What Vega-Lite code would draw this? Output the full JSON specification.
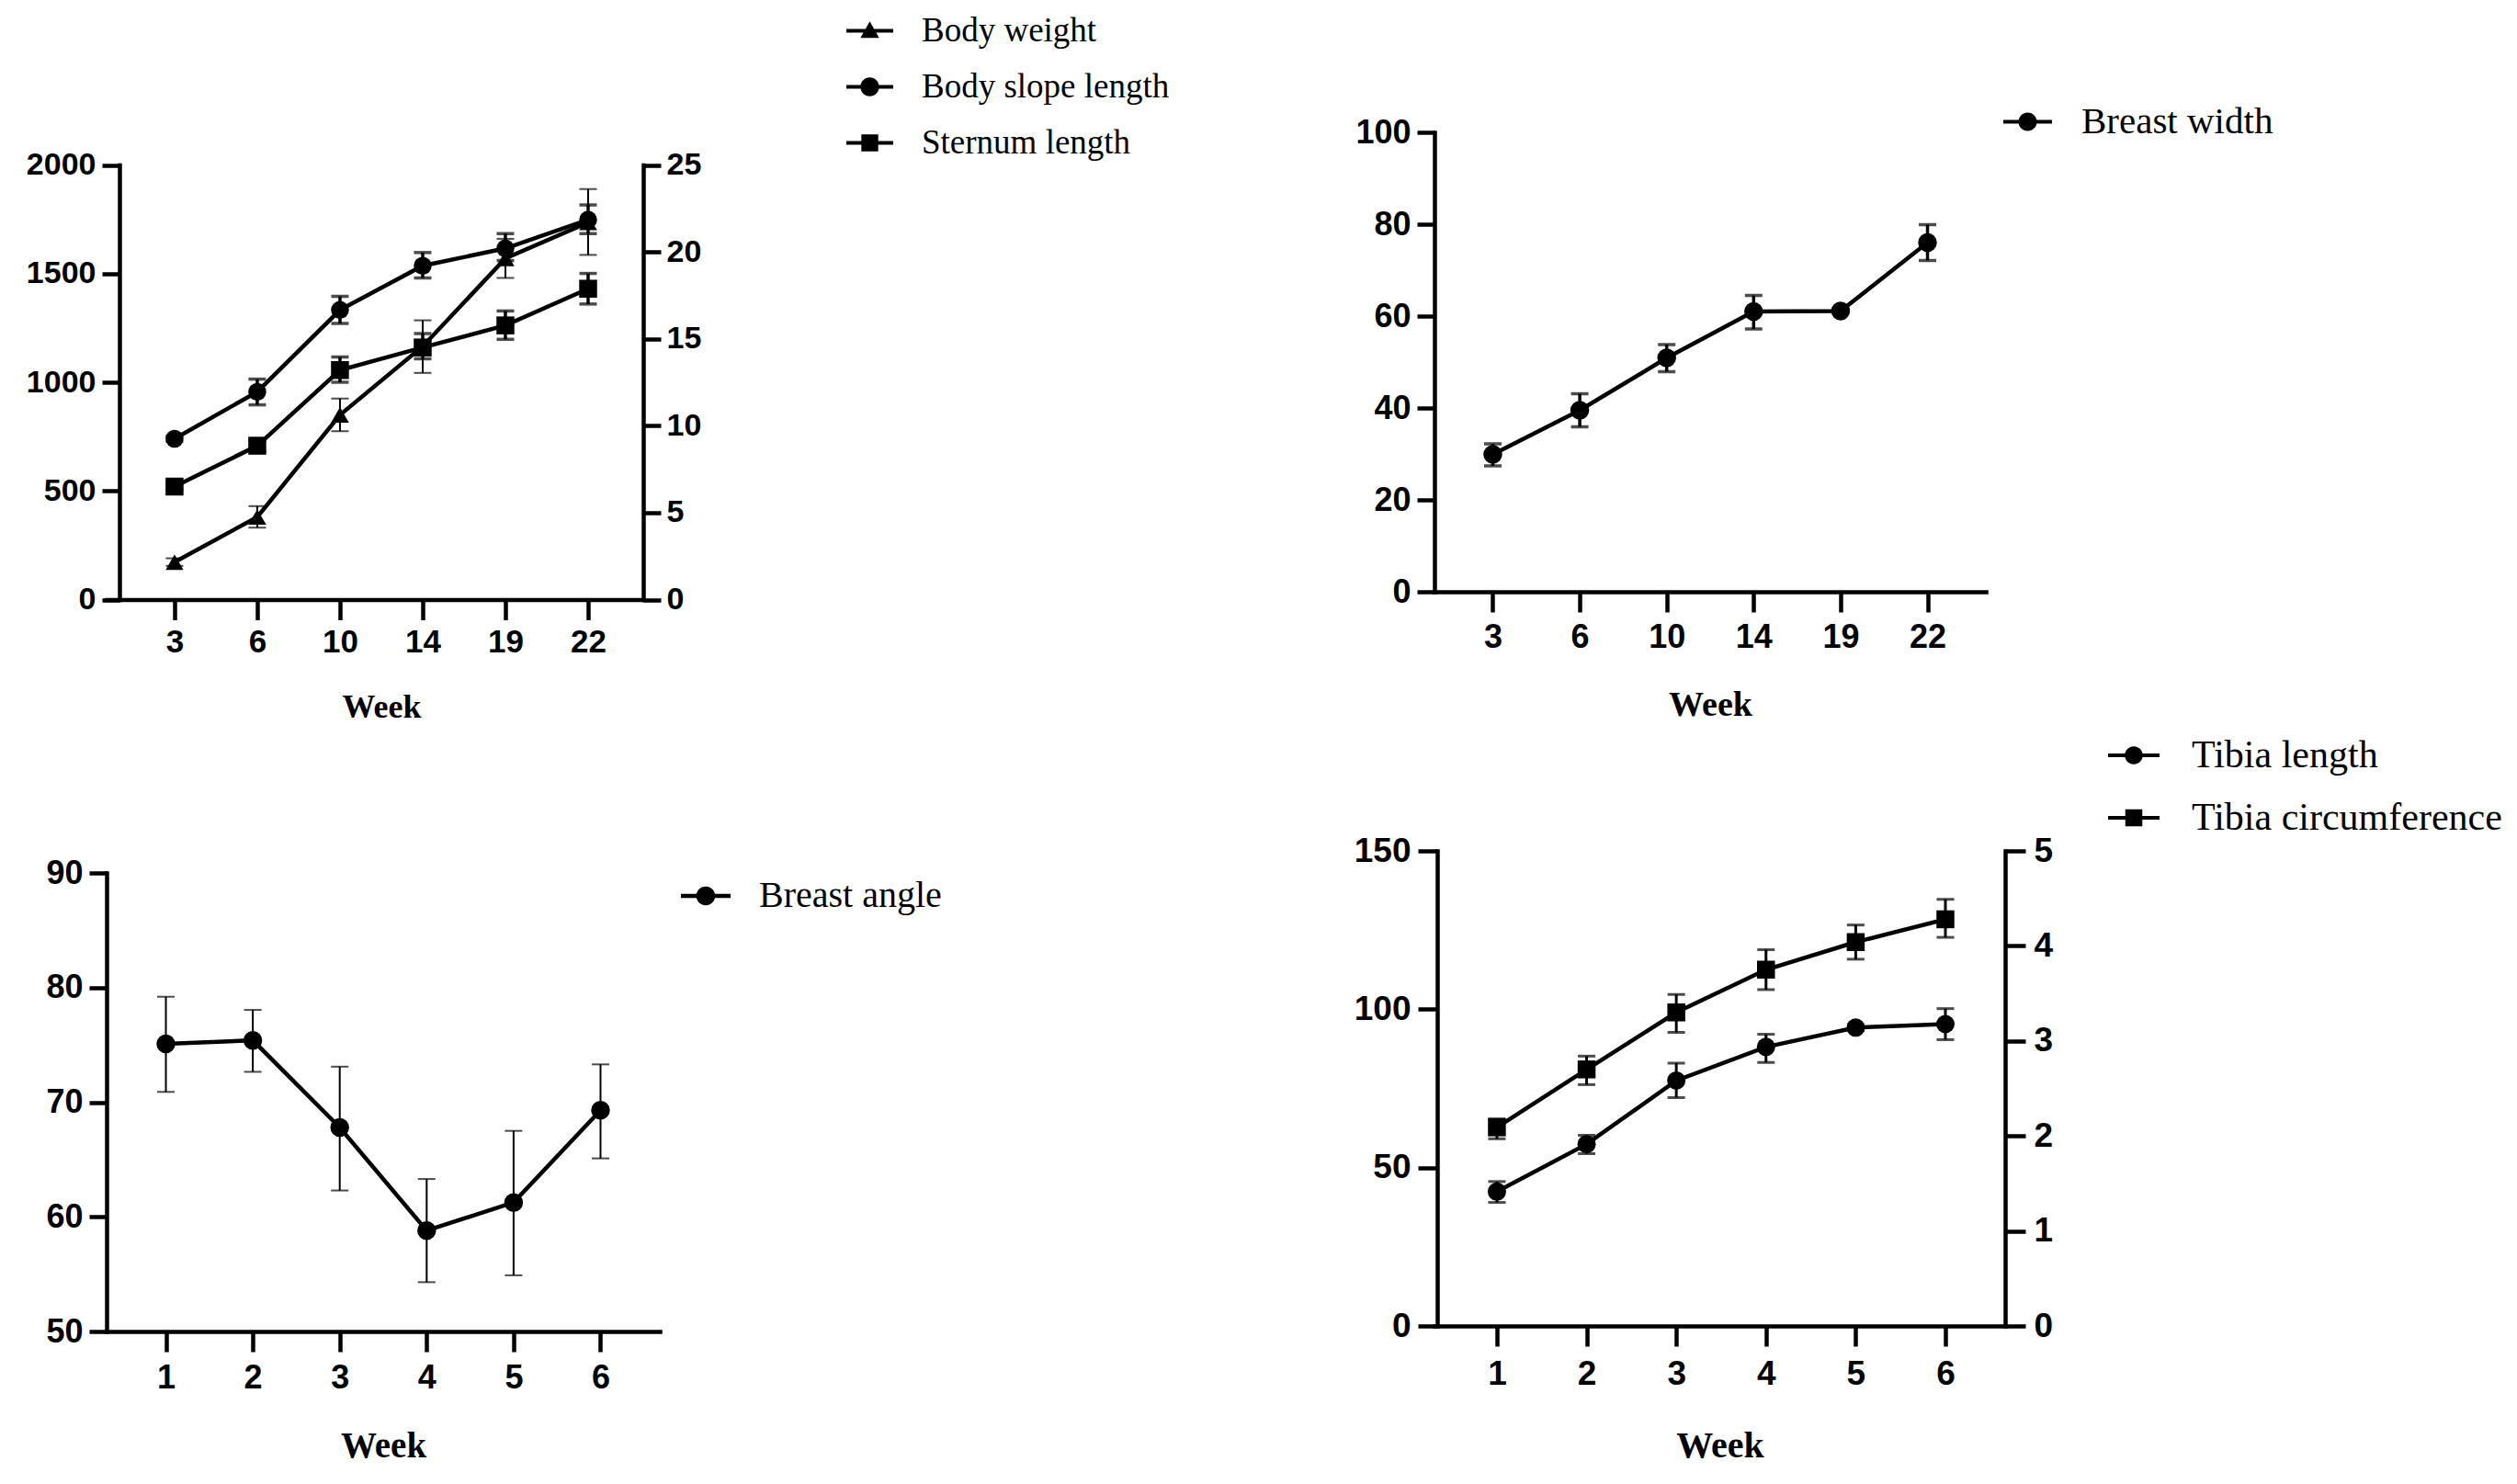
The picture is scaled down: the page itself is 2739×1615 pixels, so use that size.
{
  "$schema": "https://vega.github.io/schema/vega-lite/v6.json",
  "background": "white",
  "padding": {"left": 28, "top": 8, "right": 5, "bottom": 5},
  "bounds": "flush",
  "columns": 2,
  "spacing": {"row": 273, "column": 843},
  "resolve": {"scale": {"shape": "independent"}, "legend": {"shape": "independent"}},
  "concat": [
    {
      "width": 584,
      "height": 508.5,
      "data": {"values": [
        {"week": 3, "series": "Body weight", "mean": 172, "lo": 155, "hi": 190},
        {"week": 6, "series": "Body weight", "mean": 380, "lo": 331, "hi": 430},
        {"week": 10, "series": "Body weight", "mean": 850, "lo": 775, "hi": 925},
        {"week": 14, "series": "Body weight", "mean": 1165, "lo": 1043, "hi": 1285},
        {"week": 19, "series": "Body weight", "mean": 1570, "lo": 1480, "hi": 1660},
        {"week": 22, "series": "Body weight", "mean": 1735, "lo": 1586, "hi": 1889},
        {"week": 3, "series": "Body slope length", "mean": 9.25, "lo": 9.1, "hi": 9.4},
        {"week": 6, "series": "Body slope length", "mean": 11.95, "lo": 11.2, "hi": 12.68},
        {"week": 10, "series": "Body slope length", "mean": 16.66, "lo": 15.88, "hi": 17.44},
        {"week": 14, "series": "Body slope length", "mean": 19.2, "lo": 18.5, "hi": 19.96},
        {"week": 19, "series": "Body slope length", "mean": 20.2, "lo": 19.5, "hi": 21.05},
        {"week": 22, "series": "Body slope length", "mean": 21.85, "lo": 21.05, "hi": 22.7},
        {"week": 3, "series": "Sternum length", "mean": 6.5, "lo": 6.35, "hi": 6.65},
        {"week": 6, "series": "Sternum length", "mean": 8.85, "lo": 8.55, "hi": 9.15},
        {"week": 10, "series": "Sternum length", "mean": 13.2, "lo": 12.5, "hi": 13.95},
        {"week": 14, "series": "Sternum length", "mean": 14.5, "lo": 13.85, "hi": 15.3},
        {"week": 19, "series": "Sternum length", "mean": 15.77, "lo": 14.97, "hi": 16.6},
        {"week": 22, "series": "Sternum length", "mean": 17.88, "lo": 17.0, "hi": 18.76}
      ]},
      "layer": [
        {
          "transform": [{"filter": "datum.series === 'Body weight'"}],
          "layer": [
            {
              "mark": {"type": "line", "color": "black", "strokeWidth": 4.5},
              "encoding": {
                "x": {"field": "week", "type": "ordinal", "scale": {"type": "point", "padding": 0.744, "align": 0.552}, "axis": {"title": "Week", "labelAngle": 0, "tickSize": 22, "labelPadding": 7, "labelFontSize": 35, "titleFontSize": 36, "titleX": 299, "titleY": 117, "titleBaseline": "middle", "titleAlign": "center"}},
                "y": {"field": "mean", "type": "quantitative", "scale": {"domain": [0, 2000], "range": [508.5, 35.5], "nice": false, "zero": false}, "axis": {"orient": "left", "offset": -14, "format": "d", "values": [0, 500, 1000, 1500, 2000], "title": null, "tickSize": 19, "labelPadding": 7, "labelFontSize": 34}}
              }
            },
            {
              "mark": {"type": "errorbar", "ticks": true, "thickness": 2, "size": 19, "color": "black"},
              "encoding": {
                "x": {"field": "week", "type": "ordinal", "scale": {"type": "point", "padding": 0.744, "align": 0.552}},
                "y": {"field": "lo", "type": "quantitative", "scale": {"domain": [0, 2000], "range": [508.5, 35.5], "nice": false, "zero": false}, "axis": {"orient": "left", "offset": -14, "format": "d", "values": [0, 500, 1000, 1500, 2000], "title": null, "tickSize": 19, "labelPadding": 7, "labelFontSize": 34}},
                "y2": {"field": "hi"}
              }
            },
            {
              "mark": {"type": "point", "shape": "triangle-up", "filled": true, "size": 380, "color": "black", "opacity": 1},
              "encoding": {
                "x": {"field": "week", "type": "ordinal", "scale": {"type": "point", "padding": 0.744, "align": 0.552}},
                "y": {"field": "mean", "type": "quantitative", "scale": {"domain": [0, 2000], "range": [508.5, 35.5], "nice": false, "zero": false}, "axis": {"orient": "left", "offset": -14, "format": "d", "values": [0, 500, 1000, 1500, 2000], "title": null, "tickSize": 19, "labelPadding": 7, "labelFontSize": 34}}
              }
            }
          ]
        },
        {
          "transform": [{"filter": "datum.series !== 'Body weight'"}],
          "layer": [
            {
              "mark": {"type": "line", "color": "black", "strokeWidth": 4.5},
              "encoding": {
                "x": {"field": "week", "type": "ordinal", "scale": {"type": "point", "padding": 0.744, "align": 0.552}},
                "y": {"field": "mean", "type": "quantitative", "scale": {"domain": [0, 25], "range": [508.5, 35.5], "nice": false, "zero": false}, "axis": {"orient": "right", "values": [0, 5, 10, 15, 20, 25], "title": null, "tickSize": 19, "labelPadding": 6, "labelFontSize": 34}},
                "detail": {"field": "series"}
              }
            },
            {
              "mark": {"type": "errorbar", "ticks": true, "thickness": 3.5, "size": 19, "color": "black"},
              "encoding": {
                "x": {"field": "week", "type": "ordinal", "scale": {"type": "point", "padding": 0.744, "align": 0.552}},
                "y": {"field": "lo", "type": "quantitative", "scale": {"domain": [0, 25], "range": [508.5, 35.5], "nice": false, "zero": false}, "axis": {"orient": "right", "values": [0, 5, 10, 15, 20, 25], "title": null, "tickSize": 19, "labelPadding": 6, "labelFontSize": 34}},
                "y2": {"field": "hi"}
              }
            },
            {
              "mark": {"type": "point", "filled": true, "size": 380, "color": "black", "opacity": 1},
              "encoding": {
                "x": {"field": "week", "type": "ordinal", "scale": {"type": "point", "padding": 0.744, "align": 0.552}},
                "y": {"field": "mean", "type": "quantitative", "scale": {"domain": [0, 25], "range": [508.5, 35.5], "nice": false, "zero": false}, "axis": {"orient": "right", "values": [0, 5, 10, 15, 20, 25], "title": null, "tickSize": 19, "labelPadding": 6, "labelFontSize": 34}},
                "shape": {"field": "series", "type": "nominal", "scale": {"domain": ["Body slope length", "Sternum length"], "range": ["circle", "square"]}, "legend": null}
              }
            }
          ]
        },
        {
          "mark": {"type": "point", "filled": true, "color": "black", "opacity": 0},
          "encoding": {
            "shape": {"field": "series", "type": "nominal",
              "scale": {"domain": ["Body weight", "Body slope length", "Sternum length"], "range": ["M-1,-0.08H1V0.08H-1ZM0,-0.4L0.4,0.3L-0.4,0.3Z", "M-1,-0.08H1V0.08H-1ZM-0.4,0A0.4,0.4,0,1,1,0.4,0A0.4,0.4,0,1,1,-0.4,0Z", "M-1,-0.08H1V0.08H-1ZM-0.36,-0.36H0.36V0.36H-0.36Z"]},
              "legend": {"orient": "none", "legendX": 805, "legendY": -136, "title": null, "padding": 0, "symbolSize": 2601, "symbolOpacity": 1, "symbolStrokeWidth": 0, "symbolFillColor": "black", "labelFont": "Liberation Serif", "labelFontSize": 37, "labelFontWeight": "normal", "labelColor": "black", "labelOffset": 31, "labelLimit": 1000, "rowPadding": 17}}
          }
        }
      ],
      "resolve": {"scale": {"y": "independent", "shape": "independent"}}
    },
    {
      "width": 600,
      "height": 500,
      "data": {"values": [
        {"week": 3, "series": "Breast width", "mean": 29.9, "lo": 27.4, "hi": 32.2},
        {"week": 6, "series": "Breast width", "mean": 39.5, "lo": 35.9, "hi": 43.1},
        {"week": 10, "series": "Breast width", "mean": 50.9, "lo": 47.9, "hi": 53.8},
        {"week": 14, "series": "Breast width", "mean": 61.0, "lo": 57.2, "hi": 64.5},
        {"week": 19, "series": "Breast width", "mean": 61.1, "lo": 60.8, "hi": 61.4},
        {"week": 22, "series": "Breast width", "mean": 76.0, "lo": 72.1, "hi": 79.9}
      ]},
      "layer": [
        {
          "mark": {"type": "line", "color": "black", "strokeWidth": 4.5},
          "encoding": {
            "x": {"field": "week", "type": "ordinal", "scale": {"type": "point", "padding": 0.671}, "axis": {"title": "Week", "labelAngle": 0, "tickSize": 22, "labelPadding": 10, "labelFontSize": 36, "titleFontSize": 38, "titleY": 123, "titleBaseline": "middle", "titleAlign": "center"}},
            "y": {"field": "mean", "type": "quantitative", "scale": {"domain": [0, 100], "nice": false}, "axis": {"values": [0, 20, 40, 60, 80, 100], "title": null, "tickSize": 19, "labelPadding": 7, "labelFontSize": 36}}
          }
        },
        {
          "mark": {"type": "errorbar", "ticks": true, "thickness": 3.5, "size": 19, "color": "black"},
          "encoding": {
            "x": {"field": "week", "type": "ordinal", "scale": {"type": "point", "padding": 0.671}},
            "y": {"field": "lo", "type": "quantitative", "scale": {"domain": [0, 100], "nice": false}, "axis": {"values": [0, 20, 40, 60, 80, 100], "title": null, "tickSize": 19, "labelPadding": 7, "labelFontSize": 36}},
            "y2": {"field": "hi"}
          }
        },
        {
          "mark": {"type": "point", "shape": "circle", "filled": true, "size": 420, "color": "black", "opacity": 1},
          "encoding": {
            "x": {"field": "week", "type": "ordinal", "scale": {"type": "point", "padding": 0.671}},
            "y": {"field": "mean", "type": "quantitative", "scale": {"domain": [0, 100], "nice": false}, "axis": {"values": [0, 20, 40, 60, 80, 100], "title": null, "tickSize": 19, "labelPadding": 7, "labelFontSize": 36}}
          }
        },
        {
          "mark": {"type": "point", "filled": true, "color": "black", "opacity": 0},
          "encoding": {
            "shape": {"field": "series", "type": "nominal",
              "scale": {"domain": ["Breast width"], "range": ["M-1,-0.08H1V0.08H-1ZM-0.38,0A0.38,0.38,0,1,1,0.38,0A0.38,0.38,0,1,1,-0.38,0Z"]},
              "legend": {"orient": "none", "legendX": 619, "legendY": -38, "title": null, "padding": 0, "symbolSize": 2809, "symbolOpacity": 1, "symbolStrokeWidth": 0, "symbolFillColor": "black", "labelFont": "Liberation Serif", "labelFontSize": 41, "labelFontWeight": "normal", "labelColor": "black", "labelOffset": 32, "labelLimit": 1000}}
          }
        }
      ]
    },
    {
      "width": 602,
      "height": 523,
      "data": {"values": [
        {"week": 1, "series": "Breast angle", "mean": 75.1, "lo": 70.9, "hi": 79.2},
        {"week": 2, "series": "Breast angle", "mean": 75.4, "lo": 72.65, "hi": 78.05},
        {"week": 3, "series": "Breast angle", "mean": 67.8, "lo": 62.3, "hi": 73.1},
        {"week": 4, "series": "Breast angle", "mean": 58.8, "lo": 54.3, "hi": 63.3},
        {"week": 5, "series": "Breast angle", "mean": 61.25, "lo": 54.9, "hi": 67.5},
        {"week": 6, "series": "Breast angle", "mean": 69.3, "lo": 65.1, "hi": 73.3}
      ]},
      "layer": [
        {
          "mark": {"type": "line", "color": "black", "strokeWidth": 4.5},
          "encoding": {
            "x": {"field": "week", "type": "ordinal", "scale": {"type": "point", "padding": 0.682}, "axis": {"title": "Week", "labelAngle": 0, "tickSize": 22, "labelPadding": 11, "labelFontSize": 36, "titleFontSize": 39, "titleY": 124, "titleBaseline": "middle", "titleAlign": "center"}},
            "y": {"field": "mean", "type": "quantitative", "scale": {"domain": [50, 90], "range": [523, 24], "nice": false, "zero": false}, "axis": {"values": [50, 60, 70, 80, 90], "title": null, "tickSize": 19, "labelPadding": 7, "labelFontSize": 36}}
          }
        },
        {
          "mark": {"type": "errorbar", "ticks": true, "thickness": 2, "size": 19, "color": "black"},
          "encoding": {
            "x": {"field": "week", "type": "ordinal", "scale": {"type": "point", "padding": 0.682}},
            "y": {"field": "lo", "type": "quantitative", "scale": {"domain": [50, 90], "range": [523, 24], "nice": false, "zero": false}, "axis": {"values": [50, 60, 70, 80, 90], "title": null, "tickSize": 19, "labelPadding": 7, "labelFontSize": 36}},
            "y2": {"field": "hi"}
          }
        },
        {
          "mark": {"type": "point", "shape": "circle", "filled": true, "size": 420, "color": "black", "opacity": 1},
          "encoding": {
            "x": {"field": "week", "type": "ordinal", "scale": {"type": "point", "padding": 0.682}},
            "y": {"field": "mean", "type": "quantitative", "scale": {"domain": [50, 90], "range": [523, 24], "nice": false, "zero": false}, "axis": {"values": [50, 60, 70, 80, 90], "title": null, "tickSize": 19, "labelPadding": 7, "labelFontSize": 36}}
          }
        },
        {
          "mark": {"type": "point", "filled": true, "color": "black", "opacity": 0},
          "encoding": {
            "shape": {"field": "series", "type": "nominal",
              "scale": {"domain": ["Breast angle"], "range": ["M-1,-0.08H1V0.08H-1ZM-0.38,0A0.38,0.38,0,1,1,0.38,0A0.38,0.38,0,1,1,-0.38,0Z"]},
              "legend": {"orient": "none", "legendX": 625, "legendY": 22, "title": null, "padding": 0, "symbolSize": 2916, "symbolOpacity": 1, "symbolStrokeWidth": 0, "symbolFillColor": "black", "labelFont": "Liberation Serif", "labelFontSize": 40, "labelFontWeight": "normal", "labelColor": "black", "labelOffset": 31, "labelLimit": 1000}}
          }
        }
      ]
    },
    {
      "width": 621,
      "height": 517,
      "data": {"values": [
        {"week": 1, "series": "Tibia length", "mean": 42.4, "lo": 39.0, "hi": 45.6},
        {"week": 2, "series": "Tibia length", "mean": 57.4, "lo": 54.4, "hi": 60.2},
        {"week": 3, "series": "Tibia length", "mean": 77.5, "lo": 72.1, "hi": 83.0},
        {"week": 4, "series": "Tibia length", "mean": 88.1, "lo": 83.2, "hi": 92.1},
        {"week": 5, "series": "Tibia length", "mean": 94.2, "lo": 93.2, "hi": 95.2},
        {"week": 6, "series": "Tibia length", "mean": 95.3, "lo": 90.4, "hi": 100.2},
        {"week": 1, "series": "Tibia circumference", "mean": 2.09, "lo": 1.97, "hi": 2.18},
        {"week": 2, "series": "Tibia circumference", "mean": 2.7, "lo": 2.54, "hi": 2.84},
        {"week": 3, "series": "Tibia circumference", "mean": 3.3, "lo": 3.09, "hi": 3.49},
        {"week": 4, "series": "Tibia circumference", "mean": 3.75, "lo": 3.54, "hi": 3.96},
        {"week": 5, "series": "Tibia circumference", "mean": 4.04, "lo": 3.86, "hi": 4.22},
        {"week": 6, "series": "Tibia circumference", "mean": 4.28, "lo": 4.09, "hi": 4.49}
      ]},
      "layer": [
        {
          "transform": [{"filter": "datum.series === 'Tibia length'"}],
          "layer": [
            {
              "mark": {"type": "line", "color": "black", "strokeWidth": 4.5},
              "encoding": {
                "x": {"field": "week", "type": "ordinal", "scale": {"type": "point", "padding": 0.681, "align": 0.511}, "axis": {"title": "Week", "labelAngle": 0, "tickSize": 22, "labelPadding": 12, "labelFontSize": 37, "titleFontSize": 40, "titleY": 130, "titleBaseline": "middle", "titleAlign": "center"}},
                "y": {"field": "mean", "type": "quantitative", "scale": {"domain": [0, 150], "nice": false}, "axis": {"orient": "left", "offset": -3, "values": [0, 50, 100, 150], "title": null, "tickSize": 21, "labelPadding": 8, "labelFontSize": 37}}
              }
            },
            {
              "mark": {"type": "errorbar", "ticks": true, "thickness": 3, "size": 19, "color": "black"},
              "encoding": {
                "x": {"field": "week", "type": "ordinal", "scale": {"type": "point", "padding": 0.681, "align": 0.511}},
                "y": {"field": "lo", "type": "quantitative", "scale": {"domain": [0, 150], "nice": false}, "axis": {"orient": "left", "offset": -3, "values": [0, 50, 100, 150], "title": null, "tickSize": 21, "labelPadding": 8, "labelFontSize": 37}},
                "y2": {"field": "hi"}
              }
            },
            {
              "mark": {"type": "point", "shape": "circle", "filled": true, "size": 400, "color": "black", "opacity": 1},
              "encoding": {
                "x": {"field": "week", "type": "ordinal", "scale": {"type": "point", "padding": 0.681, "align": 0.511}},
                "y": {"field": "mean", "type": "quantitative", "scale": {"domain": [0, 150], "nice": false}, "axis": {"orient": "left", "offset": -3, "values": [0, 50, 100, 150], "title": null, "tickSize": 21, "labelPadding": 8, "labelFontSize": 37}}
              }
            }
          ]
        },
        {
          "transform": [{"filter": "datum.series === 'Tibia circumference'"}],
          "layer": [
            {
              "mark": {"type": "line", "color": "black", "strokeWidth": 4.5},
              "encoding": {
                "x": {"field": "week", "type": "ordinal", "scale": {"type": "point", "padding": 0.681, "align": 0.511}},
                "y": {"field": "mean", "type": "quantitative", "scale": {"domain": [0, 5], "nice": false}, "axis": {"orient": "right", "values": [0, 1, 2, 3, 4, 5], "title": null, "tickSize": 22, "labelPadding": 9, "labelFontSize": 37}}
              }
            },
            {
              "mark": {"type": "errorbar", "ticks": true, "thickness": 3, "size": 19, "color": "black"},
              "encoding": {
                "x": {"field": "week", "type": "ordinal", "scale": {"type": "point", "padding": 0.681, "align": 0.511}},
                "y": {"field": "lo", "type": "quantitative", "scale": {"domain": [0, 5], "nice": false}, "axis": {"orient": "right", "values": [0, 1, 2, 3, 4, 5], "title": null, "tickSize": 22, "labelPadding": 9, "labelFontSize": 37}},
                "y2": {"field": "hi"}
              }
            },
            {
              "mark": {"type": "point", "shape": "square", "filled": true, "size": 380, "color": "black", "opacity": 1},
              "encoding": {
                "x": {"field": "week", "type": "ordinal", "scale": {"type": "point", "padding": 0.681, "align": 0.511}},
                "y": {"field": "mean", "type": "quantitative", "scale": {"domain": [0, 5], "nice": false}, "axis": {"orient": "right", "values": [0, 1, 2, 3, 4, 5], "title": null, "tickSize": 22, "labelPadding": 9, "labelFontSize": 37}}
              }
            }
          ]
        },
        {
          "mark": {"type": "point", "filled": true, "color": "black", "opacity": 0},
          "encoding": {
            "shape": {"field": "series", "type": "nominal",
              "scale": {"domain": ["Tibia length", "Tibia circumference"], "range": ["M-1,-0.07H1V0.07H-1ZM-0.35,0A0.35,0.35,0,1,1,0.35,0A0.35,0.35,0,1,1,-0.35,0Z", "M-1,-0.07H1V0.07H-1ZM-0.33,-0.33H0.33V0.33H-0.33Z"]},
              "legend": {"orient": "none", "legendX": 733, "legendY": -132, "title": null, "padding": 0, "symbolSize": 3136, "symbolOpacity": 1, "symbolStrokeWidth": 0, "symbolFillColor": "black", "labelFont": "Liberation Serif", "labelFontSize": 42, "labelFontWeight": "normal", "labelColor": "black", "labelOffset": 35, "labelLimit": 1000, "rowPadding": 19}}
          }
        }
      ],
      "resolve": {"scale": {"y": "independent", "shape": "independent"}}
    }
  ],
  "config": {
    "view": {"stroke": null},
    "axis": {
      "domainColor": "black",
      "domainWidth": 4.5,
      "domainCap": "square",
      "tickColor": "black",
      "tickWidth": 4.5,
      "labelFont": "Liberation Sans",
      "labelFontWeight": "bold",
      "labelColor": "black",
      "labelFlush": false,
      "labelOverlap": false,
      "labelBound": false,
      "titleFont": "Liberation Serif",
      "titleFontWeight": "bold",
      "titleColor": "black",
      "grid": false
    }
  }
}
